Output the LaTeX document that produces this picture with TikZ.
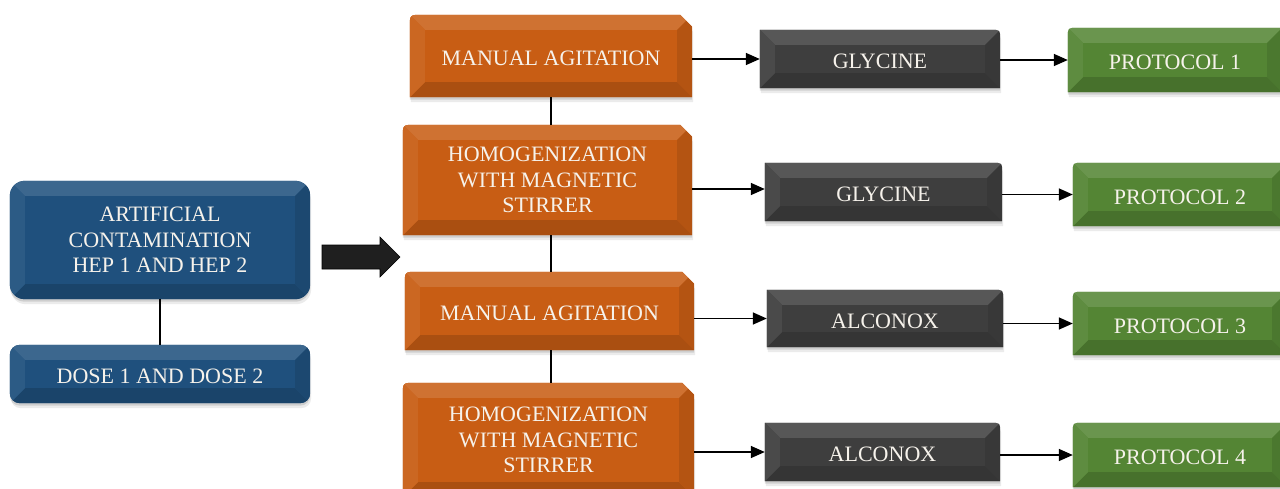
\documentclass[tikz,border=0pt]{standalone}
\usepackage{fontspec}
\setmainfont{Liberation Serif}
\usetikzlibrary{backgrounds,arrows.meta}
\definecolor{cblue}{RGB}{31,80,125}
\definecolor{corange}{RGB}{200,93,20}
\definecolor{cdark}{RGB}{62,62,62}
\definecolor{cgreen}{RGB}{84,133,52}
\definecolor{ctext}{RGB}{246,242,235}

\newcommand\pBlue[1]{[rounded corners=15pt] (#1.south west) -- (#1.north west) -- (#1.north east) -- (#1.south east) -- cycle}
\newcommand\pBlueS[1]{[rounded corners=10pt] (#1.south west) -- (#1.north west) -- (#1.north east) -- (#1.south east) -- cycle}
\newcommand\pOrange[1]{(#1.south west) -- ([yshift=-12pt]#1.north west) .. controls (#1.north west) .. ([xshift=12pt]#1.north west) -- ([xshift=-12pt]#1.north east) -- ([yshift=-12pt]#1.north east) -- (#1.south east) -- cycle}
\newcommand\pDark[1]{(#1.south west) -- (#1.north west) -- ([xshift=-10pt]#1.north east) .. controls (#1.north east) .. ([yshift=-10pt]#1.north east) -- (#1.south east) -- cycle}
\newcommand\pGreen[1]{(#1.south west) -- ([yshift=-10pt]#1.north west) .. controls (#1.north west) .. ([xshift=10pt]#1.north west) -- (#1.north east) -- (#1.south east) -- cycle}

\newcommand\bevbox[3]{%
\begin{scope}[on background layer]
 \begin{scope}[transform canvas={yshift=-5pt,xshift=1pt}]\fill[black,opacity=.08] #3{#1};\end{scope}
 \begin{scope}[transform canvas={yshift=-2.5pt}]\fill[black,opacity=.12] #3{#1};\end{scope}
 \fill[#2] #3{#1};
 \begin{scope}
  \clip #3{#1};
  \fill[#2!87!white] (#1.north west) -- (#1.north east) -- ([shift={(-15pt,-15pt)}]#1.north east) -- ([shift={(15pt,-15pt)}]#1.north west) -- cycle;
  \fill[#2!85!black] (#1.south west) -- (#1.south east) -- ([shift={(-15pt,15pt)}]#1.south east) -- ([shift={(15pt,15pt)}]#1.south west) -- cycle;
  \fill[#2!94!white] (#1.north west) -- ([shift={(15pt,-15pt)}]#1.north west) -- ([shift={(15pt,15pt)}]#1.south west) -- (#1.south west) -- cycle;
  \fill[#2!90!black] (#1.north east) -- ([shift={(-15pt,-15pt)}]#1.north east) -- ([shift={(-15pt,15pt)}]#1.south east) -- (#1.south east) -- cycle;
 \end{scope}
\end{scope}}

\tikzset{
  flowbox/.style={inner sep=0pt, text=ctext, font=\fontsize{22}{25.5}\selectfont, align=center,
    execute at begin node={\rule{0pt}{19.5pt}}},
  conn/.style={line width=1.5pt, -{Triangle[length=14pt,width=12pt]}},
  link/.style={line width=1.6pt}
}

\begin{document}
\begin{tikzpicture}[x=1pt,y=-1pt]
\useasboundingbox (0,0) rectangle (1280,488);
\clip (0,0) rectangle (1280,488);

% left column
\node[flowbox, minimum width=300pt, minimum height=118pt] (blue1) at (160,240) {ARTIFICIAL\\CONTAMINATION\\HEP 1 AND HEP 2};
\node[flowbox, minimum width=300pt, minimum height=58pt] (blue2) at (160,374) {DOSE 1 AND DOSE 2};

% orange column
\node[flowbox, minimum width=282pt, minimum height=82pt] (or1) at (551,56) {MANUAL AGITATION};
\node[flowbox, minimum width=289pt, minimum height=110pt] (or2) at (547.5,180) {HOMOGENIZATION\\WITH MAGNETIC\\STIRRER};
\node[flowbox, minimum width=289pt, minimum height=78pt] (or3) at (549.5,311) {MANUAL AGITATION};
\node[flowbox, minimum width=291pt, minimum height=114pt] (or4) at (548.5,440) {HOMOGENIZATION\\WITH MAGNETIC\\STIRRER};

% dark column
\node[flowbox, minimum width=240pt, minimum height=58pt] (dk1) at (880,59) {GLYCINE};
\node[flowbox, minimum width=237pt, minimum height=58pt] (dk2) at (883.5,192) {GLYCINE};
\node[flowbox, minimum width=236pt, minimum height=57pt] (dk3) at (885,318.5) {ALCONOX};
\node[flowbox, minimum width=235pt, minimum height=58pt] (dk4) at (882.5,452) {ALCONOX};

% green column
\node[flowbox, minimum width=214pt, minimum height=64pt] (gr1) at (1175,60) {PROTOCOL 1};
\node[flowbox, minimum width=214pt, minimum height=63pt] (gr2) at (1180,194.5) {PROTOCOL 2};
\node[flowbox, minimum width=214pt, minimum height=63pt] (gr3) at (1180,323.5) {PROTOCOL 3};
\node[flowbox, minimum width=214pt, minimum height=64pt] (gr4) at (1180,455) {PROTOCOL 4};

% big block arrow
\coordinate (atail) at (322,257);
\coordinate (atip) at (400,257);
\fill[black!88, draw=black, line width=0.6pt, line join=miter]
  ([yshift=12pt]atail) -- ([shift={(-20pt,12pt)}]atip) -- ([shift={(-20pt,20pt)}]atip) -- (atip)
  -- ([shift={(-20pt,-20pt)}]atip) -- ([shift={(-20pt,-12pt)}]atip) -- ([yshift=-12pt]atail) -- cycle;

\bevbox{blue1}{cblue}{\pBlue}
\bevbox{blue2}{cblue}{\pBlueS}
\bevbox{or1}{corange}{\pOrange}
\bevbox{or2}{corange}{\pOrange}
\bevbox{or3}{corange}{\pOrange}
\bevbox{or4}{corange}{\pOrange}
\bevbox{dk1}{cdark}{\pDark}
\bevbox{dk2}{cdark}{\pDark}
\bevbox{dk3}{cdark}{\pDark}
\bevbox{dk4}{cdark}{\pDark}
\bevbox{gr1}{cgreen}{\pGreen}
\bevbox{gr2}{cgreen}{\pGreen}
\bevbox{gr3}{cgreen}{\pGreen}
\bevbox{gr4}{cgreen}{\pGreen}

% links
\draw[link] (blue1.south) -- (blue2.north);
\draw[link] (or1.south) -- (or1.south |- or2.north);
\draw[link] (or1.south |- or2.south) -- (or1.south |- or3.north);
\draw[link] (or1.south |- or3.south) -- (or1.south |- or4.north);

% arrows
\draw[conn] (or1.east |- dk1.west) -- (dk1.west);
\draw[conn] ([yshift=3pt]or2.east |- dk2.west) -- ([yshift=3pt]dk2.west);
\draw[conn] (or3.east |- dk3.west) -- (dk3.west);
\draw[conn] (or4.east |- dk4.west) -- (dk4.west);

\draw[conn] (dk1.east |- gr1.west) -- (gr1.west);
\draw[conn] (dk2.east |- gr2.west) -- (gr2.west);
\draw[conn] (dk3.east |- gr3.west) -- (gr3.west);
\draw[conn] (dk4.east |- gr4.west) -- (gr4.west);
\end{tikzpicture}
\end{document}
